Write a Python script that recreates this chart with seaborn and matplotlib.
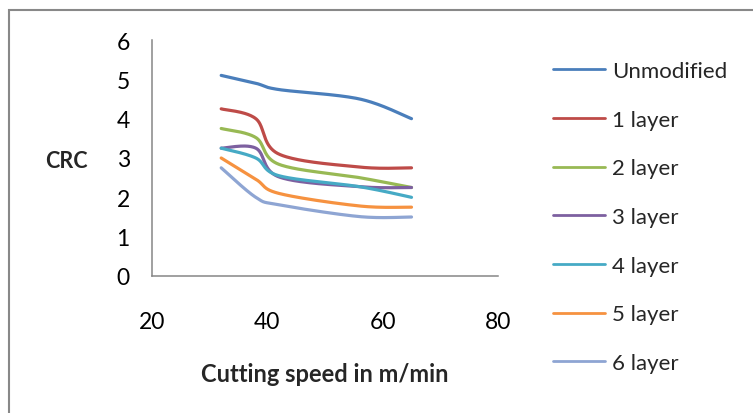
import numpy as np
import pandas as pd
import matplotlib
matplotlib.use("Agg")
import matplotlib.pyplot as plt
import seaborn as sns
from matplotlib.patches import Rectangle

# du lieu doc tu hinh
speed = [32, 38, 42, 56, 65]
series_names = ["Unmodified", "1 layer", "2 layer", "3 layer", "4 layer", "5 layer", "6 layer"]
unmodified = [5.1, 4.9, 4.74, 4.5, 4.0]
layer_1 = [4.25, 4.0, 3.1, 2.77, 2.75]
layer_2 = [3.75, 3.52, 2.84, 2.5, 2.25]
layer_3 = [3.25, 3.25, 2.52, 2.27, 2.25]
layer_4 = [3.25, 3.0, 2.55, 2.27, 2.0]
layer_5 = [3.0, 2.46, 2.1, 1.78, 1.75]
layer_6 = [2.75, 2.0, 1.81, 1.51, 1.5]
colors = ["#4A7EBB", "#BE4B48", "#98B954", "#7D60A0", "#46AAC5", "#F69240", "#8EA5D3"]


# lam muot kieu Excel (Catmull-Rom)
def smooth(xs, ys, n=40):
    p = np.column_stack([xs, ys]).astype(float)
    p = np.vstack([p[0], p, p[-1]])
    out = []
    for i in range(1, len(p) - 2):
        p0, p1, p2, p3 = p[i - 1], p[i], p[i + 1], p[i + 2]
        c1 = p1 + (p2 - p0) / 6
        c2 = p2 - (p3 - p1) / 6
        t = np.linspace(0, 1, n)[:, None]
        seg = (1 - t) ** 3 * p1 + 3 * (1 - t) ** 2 * t * c1 + 3 * (1 - t) * t ** 2 * c2 + t ** 3 * p2
        out.append(seg if i == 1 else seg[1:])
    out = np.vstack(out)
    return out[:, 0], out[:, 1]


all_vals = [unmodified, layer_1, layer_2, layer_3, layer_4, layer_5, layer_6]
frames = []
for name, vals in zip(series_names, all_vals):
    sx, sy = smooth(speed, vals)
    frames.append(pd.DataFrame({"x": sx, "y": sy, "series": name}))
df = pd.concat(frames, ignore_index=True)

sns.set_style("white")
plt.rcParams["font.family"] = ["Lato", "DejaVu Sans"]

fig = plt.figure(figsize=(7.53, 4.14), dpi=100)
ax = fig.add_axes([152 / 753, 1 - 277 / 414, 346 / 753, 236 / 414])

sns.lineplot(data=df, x="x", y="y", hue="series", hue_order=series_names,
             palette=colors, sort=False, estimator=None, units="series",
             linewidth=2.3, ax=ax, legend=False)

ax.set_xlim(20, 80)
ax.set_ylim(0, 6)
ax.set_xticks([20, 40, 60, 80])
ax.set_yticks(range(0, 7))
for s in ["top", "right"]:
    ax.spines[s].set_visible(False)
for s in ["left", "bottom"]:
    ax.spines[s].set_color("#868686")
    ax.spines[s].set_linewidth(1.1)
ax.tick_params(axis="both", direction="out", length=6, width=1.1, color="#868686",
               labelsize=16.5, labelcolor="black")
ax.tick_params(axis="x", pad=19)
ax.tick_params(axis="y", pad=10)
ax.grid(False)

ax.set_xlabel("Cutting speed in m/min", fontsize=17, fontweight="bold", labelpad=22)
ax.set_ylabel("")
fig.text(66 / 753, 1 - 162 / 414, "CRC", fontsize=15.5, fontweight="bold", ha="center", va="center")

handles = [plt.Line2D([], [], color=c, linewidth=2) for c in colors]
fig.legend(handles, series_names, loc="upper left", bbox_to_anchor=(553 / 753, 1 - 62 / 414),
           frameon=False, fontsize=16, borderpad=0, borderaxespad=0, handlelength=2.35,
           handletextpad=0.3, labelspacing=1.29)

fig.patches.append(Rectangle((9 / 753, -0.1), 1.2, 1.1 - 11 / 414, transform=fig.transFigure,
                             fill=False, edgecolor="#888888", linewidth=1.5))

fig.savefig("out.png", dpi=100)
